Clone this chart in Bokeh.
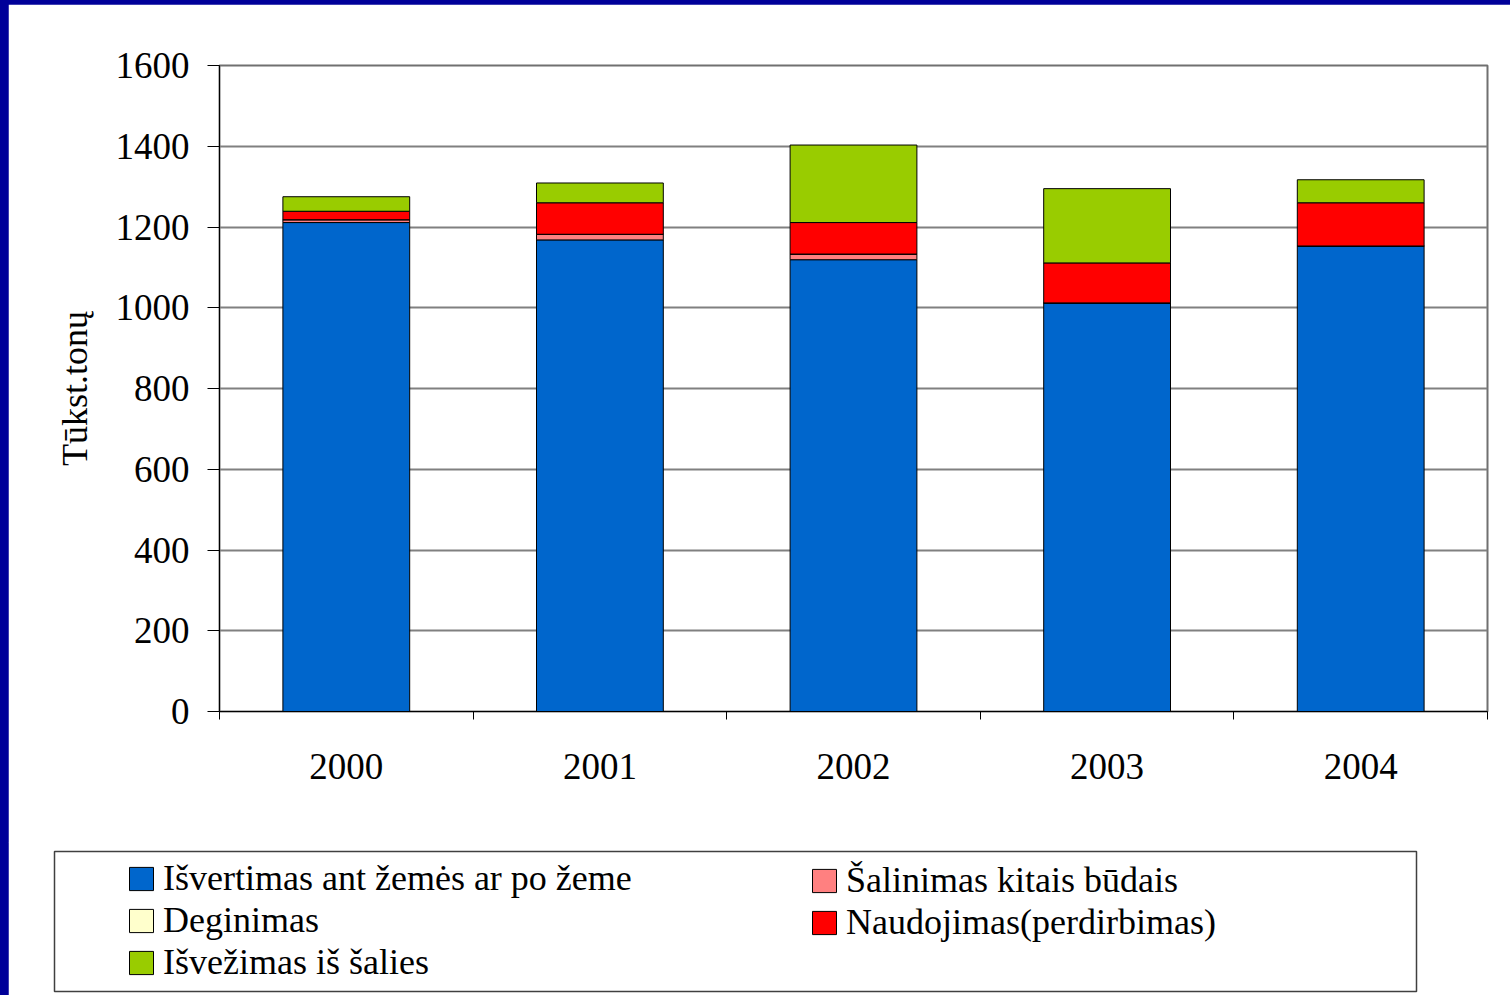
from bokeh.plotting import figure
from bokeh.models import Range1d, FixedTicker, Legend, LegendItem, ColumnDataSource
from bokeh.layouts import column
from bokeh.embed import file_html
from bokeh.resources import INLINE

# ---- data ----
years = ["2000", "2001", "2002", "2003", "2004"]
isvertimas = [1211, 1168, 1119, 1012, 1153]
salinimas = [7, 14, 14, 0, 0]
deginimas = [0, 0, 0, 0, 0]
naudojimas = [21, 78, 78, 99, 107]
isvezimas = [36, 49, 192, 184, 57]

series_names = [
    "Išvertimas ant žemės ar po žeme",
    "Šalinimas kitais būdais",
    "Deginimas",
    "Naudojimas(perdirbimas)",
    "Išvežimas iš šalies",
]
series_values = [isvertimas, salinimas, deginimas, naudojimas, isvezimas]
colors = ["#0066CC", "#FF8080", "#FFFFCC", "#FF0000", "#99CC00"]
y_ticks = [0, 200, 400, 600, 800, 1000, 1200, 1400, 1600]
y_label = "Tūkst.tonų"

FONT = "Liberation Serif"

xs = [i + 0.5 for i in range(len(years))]
keys = ["s%d" % i for i in range(len(series_names))]
data = {"x": xs}
for k, v in zip(keys, series_values):
    data[k] = v
source = ColumnDataSource(data)

p = figure(width=1502, height=839,
           x_range=Range1d(0, len(years)), y_range=Range1d(y_ticks[0], y_ticks[-1]),
           output_backend="svg", toolbar_location=None, frame_align=False,
           min_border_left=211, min_border_right=23, min_border_top=61, min_border_bottom=132,
           margin=(4, 0, 0, 8))
p.background_fill_color = "white"
p.border_fill_color = "white"
p.outline_line_color = "#707070"
p.outline_line_width = 2

p.vbar_stack(keys, x="x", width=0.5, source=source,
             fill_color=colors, line_color="black", line_width=1)

# x axis: labels at bar centres, tick marks between categories
p.xaxis.ticker = FixedTicker(ticks=xs, minor_ticks=list(range(len(years) + 1)))
p.xaxis.major_label_overrides = {x: y for x, y in zip(xs, years)}
p.xaxis.major_tick_out = 0
p.xaxis.major_tick_in = 0
p.xaxis.minor_tick_out = 8
p.xaxis.minor_tick_in = 0
p.xaxis.minor_tick_line_color = "black"
p.xaxis.axis_line_color = "black"
p.xaxis.major_label_standoff = 34
p.xaxis.major_label_text_font = FONT
p.xaxis.major_label_text_font_size = "37px"
p.xaxis.major_label_text_color = "black"

p.yaxis.ticker = FixedTicker(ticks=y_ticks)
p.yaxis.major_tick_out = 12
p.yaxis.major_tick_in = 0
p.yaxis.minor_tick_line_color = None
p.yaxis.axis_line_color = "black"
p.yaxis.major_tick_line_color = "black"
p.yaxis.major_label_standoff = 18
p.yaxis.major_label_text_font = FONT
p.yaxis.major_label_text_font_size = "37px"
p.yaxis.major_label_text_color = "black"
p.yaxis.axis_label = y_label
p.yaxis.axis_label_text_font = FONT
p.yaxis.axis_label_text_font_size = "36px"
p.yaxis.axis_label_text_font_style = "normal"
p.yaxis.axis_label_text_color = "black"
p.yaxis.axis_label_standoff = 18

p.xgrid.visible = False
p.ygrid.grid_line_color = "#808080"
p.ygrid.grid_line_width = 2

# ---- legend panel (its frame outline is the legend box) ----
lf = figure(width=1502, height=153, x_range=Range1d(0, 1), y_range=Range1d(0, 1),
            output_backend="svg", toolbar_location=None, frame_align=False,
            x_axis_location=None, y_axis_location=None,
            min_border_left=46, min_border_right=94, min_border_top=9, min_border_bottom=4,
            margin=(-1, 0, 0, 8))
lf.grid.visible = False
lf.outline_line_color = "#404040"
lf.outline_line_width = 1.5
lf.border_fill_color = "white"
lf.background_fill_color = "white"

# hidden copies of the stacked bars, only used for the legend swatches
lbars = lf.vbar_stack(keys, x="x", width=0.5, source=source,
                      fill_color=colors, line_color="black", line_width=1, visible=False)

def make_legend(idx, loc):
    return Legend(items=[LegendItem(label=series_names[i], renderers=[lbars[i]]) for i in idx],
                  location=loc, padding=0, spacing=-2, margin=0,
                  border_line_color=None, background_fill_alpha=0,
                  glyph_width=30, glyph_height=29, label_standoff=7, label_height=40,
                  label_text_font=FONT, label_text_font_size="36px", label_text_color="black")

lf.add_layout(make_legend([0, 2, 4], (72, 8)))
lf.add_layout(make_legend([1, 3], (755, 48)))

layout = column(p, lf, spacing=0,
                styles={"background-color": "#000099"})
open("out.html", "w").write(file_html(layout, INLINE))
